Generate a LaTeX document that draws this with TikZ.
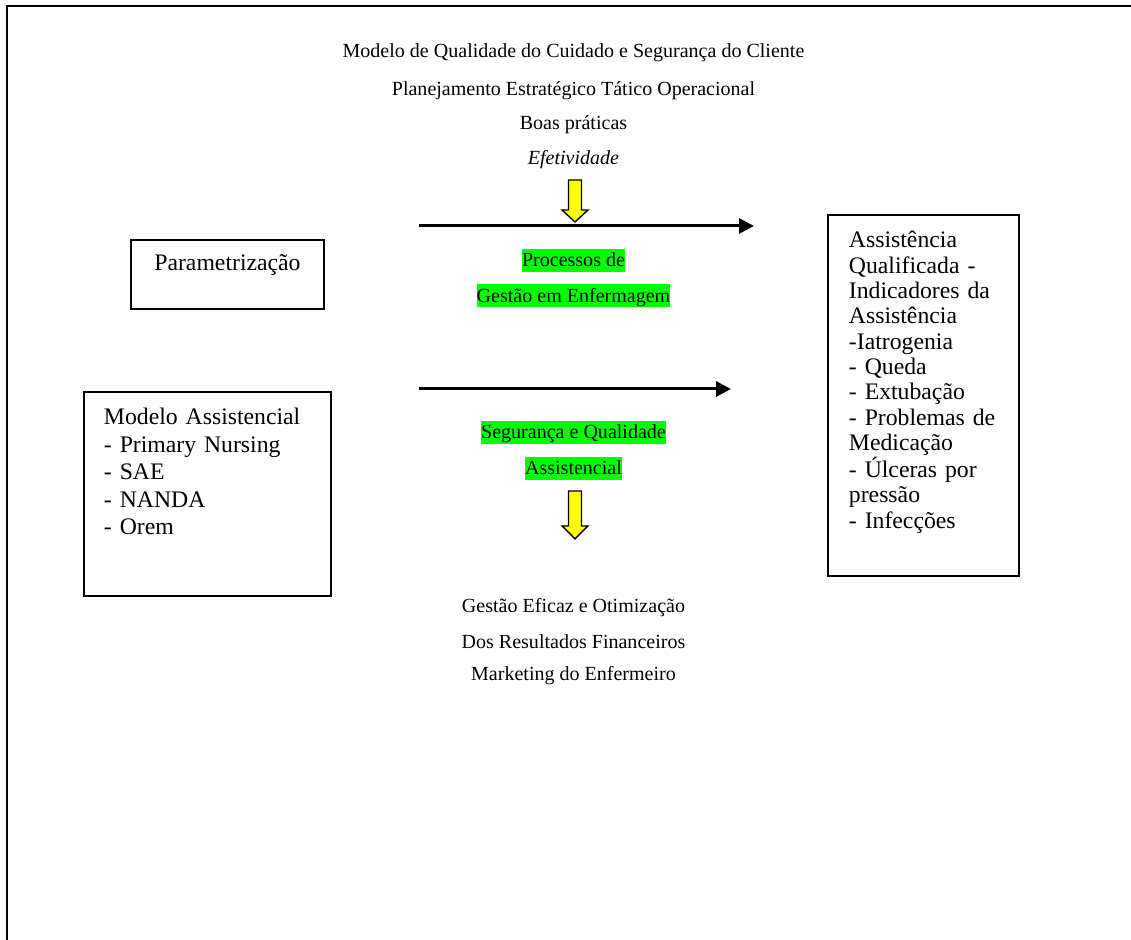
\documentclass[tikz,border=0pt]{standalone}
\usepackage{fontspec}
\setmainfont{Liberation Serif}
\usetikzlibrary{arrows.meta}
\definecolor{markgreen}{RGB}{0,255,0}
\definecolor{arrowyellow}{RGB}{255,255,0}

\begin{document}
\begin{tikzpicture}
        [
            plainbox/.style={rectangle, draw=black, line width=1.1pt, anchor=north west, inner ysep=0pt, font=\fontsize{13.5}{15.6}\selectfont},
            centertext/.style={anchor=base, inner sep=0pt, font=\fontsize{11.4}{13}\selectfont},
            greentext/.style={centertext, fill=markgreen, text height=0.36cm, text depth=0.1cm},
            flowarrow/.style={->, line width=1.7pt},
            yellowarrow/.style={draw=black, line width=0.8pt, fill=arrowyellow, line join=miter},
            >={Triangle[length=0.3cm, width=0.3cm]}
        ]
        \useasboundingbox (0,0) rectangle (22.62,18.8);
        % frame
        \draw[line width=1.4pt] (0.14,0) -- (0.14,18.68) -- (22.62,18.68);
        % top
        \node[centertext] (qualmodel) at (11.47,17.64) {Modelo de Qualidade do Cuidado e Segurança do Cliente};
        \node[centertext] (planning) at (11.47,16.89) {Planejamento Estratégico Tático Operacional};
        \node[centertext] (practice) at (11.47,16.2) {Boas práticas};
        \node[centertext] (effect) at (11.47,15.5) {\textit{Efetividade}};
        \draw[yellowarrow] (11.37,15.2) -- (11.63,15.2) -- (11.63,14.6) -- (11.76,14.6) -- (11.5,14.36) -- (11.24,14.6) -- (11.37,14.6) -- cycle;
        % upper arrow
        \coordinate (upstart) at (8.38,14.28);
        \coordinate (upend) at (15.08,14.28);
        \draw[flowarrow] (upstart) -- (upend);
        \node[greentext] (process) at (11.47,13.46) {Processos de};
        \node[greentext] (management) at (11.47,12.75) {Gestão em Enfermagem};
        % lower arrow
        \coordinate (lowstart) at (8.38,11.02);
        \coordinate (lowend) at (14.62,11.02);
        \draw[flowarrow] (lowstart) -- (lowend);
        \node[greentext] (safety) at (11.47,10.02) {Segurança e Qualidade};
        \node[greentext] (assistance) at (11.47,9.3) {Assistencial};
        \draw[yellowarrow] (11.37,8.98) -- (11.63,8.98) -- (11.63,8.28) -- (11.76,8.28) -- (11.5,8.02) -- (11.24,8.28) -- (11.37,8.28) -- cycle;
        % bottom
        \node[centertext] (efficient) at (11.47,6.54) {Gestão Eficaz e Otimização};
        \node[centertext] (finance) at (11.47,5.82) {Dos Resultados Financeiros};
        \node[centertext] (marketing) at (11.47,5.18) {Marketing do Enfermeiro};
        % left boxes
        \node[plainbox, minimum width=3.86cm, text height=0.62cm, text depth=0.76cm] (param) at (2.6,14.02) {Parametrização};
        \node[plainbox, inner xsep=0.4cm, text width=4.14cm, align=left, text height=0.66cm, text depth=3.42cm] (caremodel) at (1.66,10.98)
            {Modelo Assistencial\\- Primary Nursing\\- SAE\\- NANDA\\- Orem};
        % right box
        \node[plainbox, inner xsep=0.42cm, text width=2.98cm, align=left, text height=0.66cm, text depth=6.56cm, font=\fontsize{13.5}{14.4}\selectfont] (indicators) at (16.54,14.52)
            {Assistência\\Qualificada -\\Indicadores da\\Assistência\\-Iatrogenia\\- Queda\\- Extubação\\- Problemas de\\Medicação\\- Úlceras por\\pressão\\- Infecções};
    \end{tikzpicture}
\end{document}
